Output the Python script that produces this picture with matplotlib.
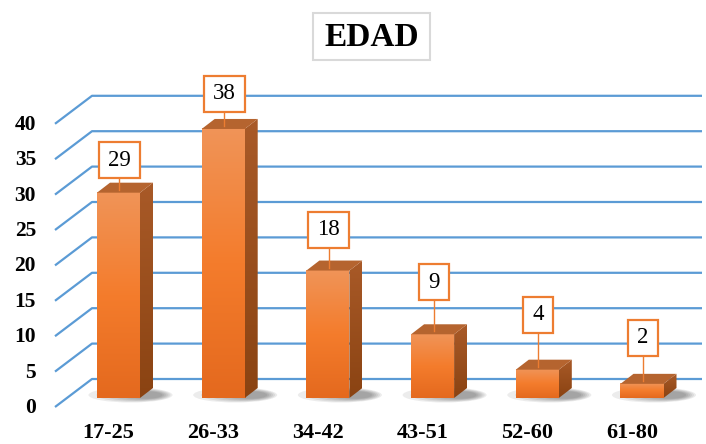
import numpy as np
import matplotlib.pyplot as plt
from matplotlib.patches import Polygon, Rectangle, Ellipse
from matplotlib.colors import LinearSegmentedColormap

categories = ['17-25', '26-33', '34-42', '43-51', '52-60', '61-80']
values = [29, 38, 18, 9, 4, 2]
yticks = [0, 5, 10, 15, 20, 25, 30, 35, 40]
title = 'EDAD'

W, H = 706, 444
X0, XS = 118.5, 104.7   # pixel x of first bar centre, pixels per category
Y0, YS = 398, 7.08      # pixel y (from top) of bar base, pixels per unit

serif = 'Liberation Serif'
orange = '#ED7D31'
blue = '#5B9BD5'


def px(n):
    # horizontal pixel length -> data units
    return n / XS


def py(n):
    # vertical pixel length -> data units
    return n / YS


def xp(p):
    return (p - X0) / XS


def yp(p):
    return (Y0 - p) / YS


fig = plt.figure(figsize=(W / 100, H / 100), dpi=100)
ax = fig.add_axes([0, 0, 1, 1])

# back wall grid lines (3d look) + y tick labels
for t in yticks:
    ax.plot([xp(55), xp(92), xp(702)], [t - py(9), t + py(19), t + py(19)],
            color=blue, lw=1.6, solid_capstyle='butt', zorder=1)
    ax.text(xp(36), t - py(10), str(t), ha='right', va='center',
            fontsize=15.5, fontweight='bold', family=serif)

front_cmap = LinearSegmentedColormap.from_list('front', ['#E4691E', '#F47C2C', '#F09458'])
side_cmap = LinearSegmentedColormap.from_list('side', ['#8A4312', '#A95A28'])
grad = np.linspace(0, 1, 256).reshape(-1, 1)

hw, dx, dy = px(21.5), px(13), py(10)

for i, v in enumerate(values):
    x0, x1 = i - hw, i + hw

    # soft shadow on the floor, pushed to the right of the bar
    for k in range(6):
        ax.add_patch(Ellipse((i + px(12 + 3 * k), py(3)), px(84 - 10 * k), py(15 - 1.5 * k),
                             fc='#303030', ec='none', alpha=0.09, zorder=2))

    # front face
    ax.imshow(grad, extent=(x0, x1, 0, v), origin='lower', cmap=front_cmap,
              aspect='auto', zorder=3, interpolation='bilinear')

    # side face
    side = Polygon([(x1, 0), (x1 + dx, dy), (x1 + dx, v + dy), (x1, v)],
                   closed=True, fc='none', ec='none', zorder=3)
    ax.add_patch(side)
    im = ax.imshow(grad, extent=(x1, x1 + dx, 0, v + dy), origin='lower',
                   cmap=side_cmap, aspect='auto', zorder=3, interpolation='bilinear')
    im.set_clip_path(side)

    # top face
    ax.add_patch(Polygon([(x0, v), (x0 + dx, v + dy), (x1 + dx, v + dy), (x1, v)],
                         closed=True, fc='#B5642F', ec='none', zorder=4))

    # category label
    ax.text(i - px(10), yp(433), categories[i], ha='center', va='center',
            fontsize=16, fontweight='bold', family=serif)

# data labels with leader lines
label_gap = [32.5, 35, 41, 52, 55, 46]  # pixels from bar top to box centre
for i, v in enumerate(values):
    s = str(v)
    bw = 41 if len(s) > 1 else 30
    bh = 36
    cx = i + px(1)
    cy = v + py(label_gap[i])
    ax.plot([cx, cx], [cy - py(bh / 2), v + py(3)], color=orange, lw=1, zorder=5)
    ax.add_patch(Rectangle((cx - px(bw / 2), cy - py(bh / 2)), px(bw), py(bh),
                           fc='white', ec=orange, lw=1.6, zorder=6))
    ax.text(cx, cy, s, ha='center', va='center', fontsize=16.5,
            family=serif, zorder=7)

# title in a light box
ax.add_patch(Rectangle((xp(313), yp(60)), px(117), py(47), fc='white',
                       ec='#D9D9D9', lw=1.5, zorder=6))
ax.text(xp(371.5), yp(37), title, ha='center', va='center', fontsize=24,
        fontweight='bold', family=serif, zorder=7)

ax.set_xlim(xp(0), xp(W))
ax.set_ylim(yp(H), yp(0))
ax.axis('off')

fig.savefig('out.png', dpi=100)
